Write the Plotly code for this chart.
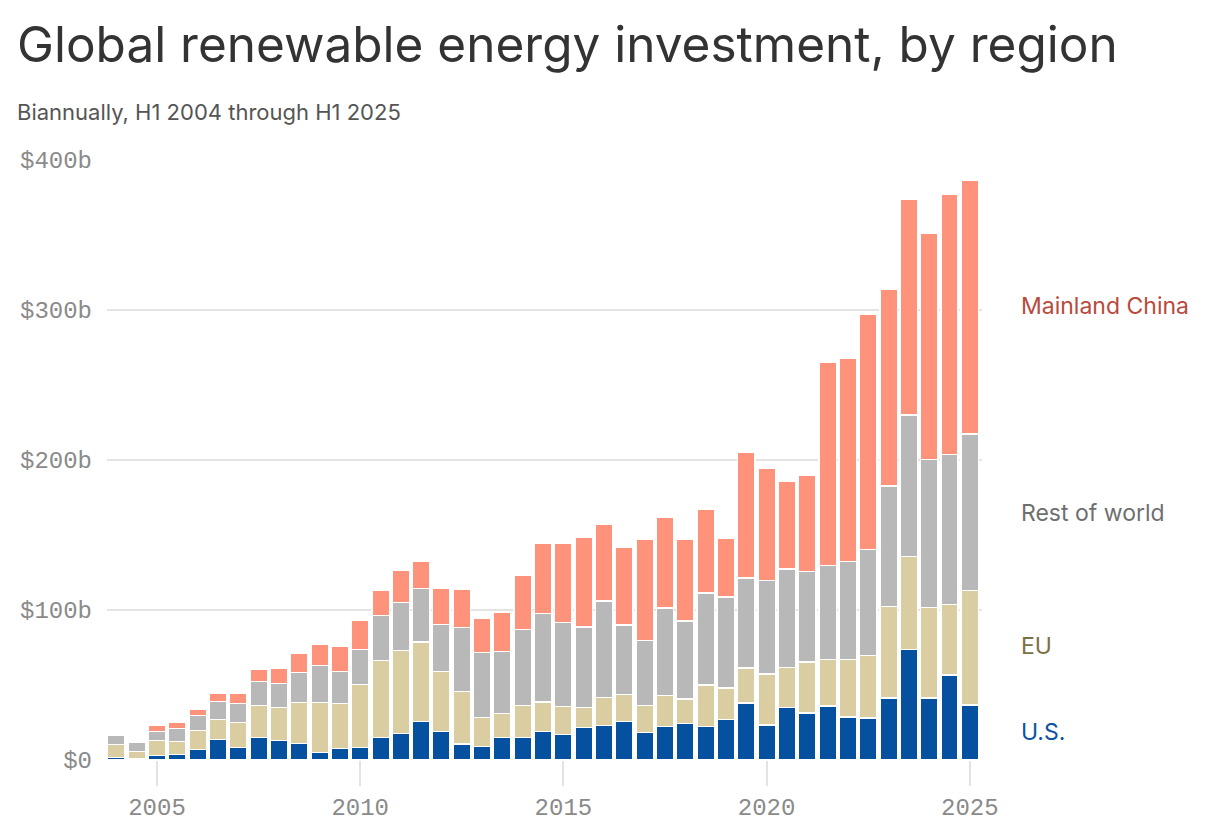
import plotly.graph_objects as go

# half-year periods, H1 2004 .. H1 2025 (x = year for H1, year + 0.5 for H2)
periods = [2004 + 0.5 * i for i in range(43)]

# investment in $ billions
us = [1.6, 0.9, 2.9, 3.6, 6.9, 13.6, 8.2, 14.9, 13.1, 11.1,
      4.9, 7.6, 8.2, 14.9, 17.6, 25.6, 18.9, 10.7, 8.9, 14.9,
      14.9, 18.9, 16.9, 21.6, 22.9, 25.6, 18.2, 22.2, 24.2, 22.2,
      27.0, 38.0, 23.2, 35.1, 31.3, 36.0, 28.6, 28.1, 41.4, 73.8,
      41.4, 56.7, 36.8]
eu = [8.6, 4.7, 10.0, 8.6, 12.9, 13.3, 16.9, 21.3, 22.0, 27.1,
      33.3, 30.0, 42.0, 51.3, 55.3, 53.2, 40.0, 34.9, 19.5, 16.2,
      21.5, 19.8, 18.9, 13.5, 18.9, 18.2, 18.2, 20.9, 16.5, 27.7,
      20.9, 23.5, 34.3, 26.6, 34.2, 31.0, 38.4, 41.7, 61.1, 61.9,
      60.2, 47.1, 76.3]
rest_of_world = [6.0, 6.0, 6.0, 8.7, 10.0, 12.0, 12.5, 16.0, 15.8, 20.0,
                 24.7, 21.3, 23.4, 30.0, 32.0, 35.4, 31.5, 42.8, 43.4, 41.3,
                 50.7, 59.1, 56.0, 53.6, 64.2, 46.2, 43.4, 58.2, 52.0, 61.6,
                 60.9, 60.0, 62.1, 65.8, 60.1, 62.7, 65.4, 70.5, 80.1, 94.3,
                 98.9, 100.0, 104.1]
china = [0.0, 0.0, 4.0, 4.4, 3.8, 5.3, 6.6, 8.0, 10.0, 12.7,
         14.0, 17.1, 19.3, 16.7, 21.3, 18.0, 24.3, 25.6, 22.4, 26.3,
         36.2, 46.9, 52.9, 60.0, 51.3, 52.0, 67.5, 60.7, 54.6, 56.0,
         39.0, 83.9, 74.7, 58.4, 64.4, 135.7, 135.4, 157.0, 131.3, 143.8,
         150.7, 173.6, 169.2]

y_ticks = [0, 100, 200, 300, 400]
y_tick_text = ["$0", "$100b", "$200b", "$300b", "$400b"]
x_ticks = [2005, 2010, 2015, 2020, 2025]

series = [
    ("U.S.", us, "#0551a0", "#0b52a0", 18.7),
    ("EU", eu, "#d9cda1", "#7b6f45", 76),
    ("Rest of world", rest_of_world, "#b8b8b8", "#6f6f6f", 165),
    ("Mainland China", china, "#ff927a", "#b94a3b", 303),
]

fig = go.Figure()
for name, vals, col, _, _ in series:
    fig.add_trace(go.Bar(
        x=periods, y=vals, name=name, width=0.43,
        marker=dict(color=col, line=dict(color="white", width=1.5)),
        hoverinfo="skip",
    ))

# direct labels on the right
for name, _, _, txtcol, ypos in series:
    fig.add_annotation(
        x=1.042, xref="paper", y=ypos, yref="y", text=name,
        showarrow=False, xanchor="left", yanchor="middle",
        font=dict(family="Inter", size=23, color=txtcol),
    )

fig.add_annotation(
    x=-0.105, xref="paper", y=1.193, yref="paper",
    text="Global renewable energy investment, by region",
    showarrow=False, xanchor="left", yanchor="middle",
    font=dict(family="Inter", size=49.5, color="#333333"),
)
fig.add_annotation(
    x=-0.105, xref="paper", y=1.08, yref="paper",
    text="Biannually, H1 2004 through H1 2025",
    showarrow=False, xanchor="left", yanchor="middle",
    font=dict(family="Inter", size=22, color="#555555"),
)

# page has an 8px body margin, so margins are shifted by 8
fig.update_layout(
    barmode="stack",
    width=1220, height=834,
    margin=dict(l=87, r=246, t=152, b=82),
    paper_bgcolor="white", plot_bgcolor="white",
    showlegend=False,
    xaxis=dict(
        range=[2003.77, 2025.3],
        tickvals=x_ticks,
        ticks="outside", ticklen=25, tickwidth=2, tickcolor="#e3e3e3",
        showgrid=False, zeroline=False, showline=False,
        tickfont=dict(family="Liberation Mono", size=24, color="#8a8a8a"),
    ),
    yaxis=dict(
        range=[0, 400],
        tickvals=y_ticks, ticktext=y_tick_text,
        showgrid=True, gridcolor="#e4e4e4", gridwidth=2,
        zeroline=False, showline=False, ticks="",
        ticklabelstandoff=14,
        tickfont=dict(family="Liberation Mono", size=24, color="#8a8a8a"),
    ),
)

fig.write_html("out.html")
